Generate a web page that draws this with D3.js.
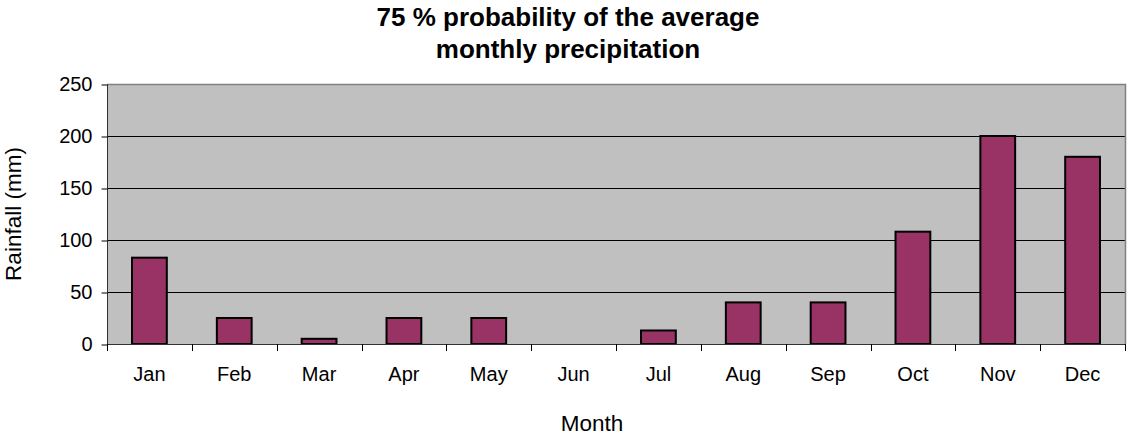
<!DOCTYPE html>
<html>
<head>
<meta charset="utf-8">
<script src="https://cdn.jsdelivr.net/npm/d3@7"></script>
<style>
  html, body { margin: 0; padding: 0; background: #fff; }
  svg { display: block; font-family: Arial, "Liberation Sans", sans-serif; }
</style>
</head>
<body>
<svg id="chart" width="1128" height="439"></svg>
<script>
// Monthly rainfall at 75 % probability (mm)
const months = ["Jan", "Feb", "Mar", "Apr", "May", "Jun", "Jul", "Aug", "Sep", "Oct", "Nov", "Dec"];
const rainfall = [83, 25, 5, 25, 25, 0, 13, 40, 40, 108, 200, 180];
const yTicks = [0, 50, 100, 150, 200, 250];
const titleLines = ["75 % probability of the average", "monthly precipitation"];

const svg = d3.select("#chart");
const plot = { left: 107, right: 1125, top: 84, bottom: 344 };

const x = d3.scaleBand()
  .domain(months)
  .range([plot.left, plot.right])
  .paddingInner(0.59)
  .paddingOuter(0.295);

const y = d3.scaleLinear()
  .domain([0, 250])
  .range([plot.bottom, plot.top]);

// plot background
svg.append("rect")
  .attr("x", plot.left).attr("y", plot.top)
  .attr("width", plot.right - plot.left).attr("height", plot.bottom - plot.top)
  .attr("fill", "#c0c0c0");

// horizontal gridlines
svg.append("g")
  .selectAll("line")
  .data(yTicks.filter(d => d > 0 && d < 250))
  .join("line")
  .attr("x1", plot.left).attr("x2", plot.right)
  .attr("y1", d => y(d) + 0.5).attr("y2", d => y(d) + 0.5)
  .attr("stroke", "#000").attr("stroke-width", 1);

// top and right frame
svg.append("path")
  .attr("d", `M${plot.left},${plot.top + 0.5}H${plot.right + 0.5}V${plot.bottom}`)
  .attr("fill", "none").attr("stroke", "#808080").attr("stroke-width", 1.5);

// bars
svg.append("g")
  .selectAll("rect")
  .data(months.map((m, i) => ({ m, v: rainfall[i] })))
  .join("rect")
  .attr("x", d => x(d.m))
  .attr("y", d => y(d.v))
  .attr("width", x.bandwidth())
  .attr("height", d => y(0) - y(d.v))
  .attr("fill", "#993366")
  .attr("stroke", "#000")
  .attr("stroke-width", 2)
  .attr("display", d => d.v > 0 ? null : "none");

// y axis
const yAxis = d3.axisLeft(y).tickValues(yTicks).tickSize(6).tickPadding(9);
svg.append("g")
  .attr("transform", `translate(${plot.left + 0.5},0.5)`)
  .call(yAxis)
  .call(g => g.select(".domain").attr("stroke", "#333").attr("d", `M0,${plot.top}V${plot.bottom}`))
  .call(g => g.selectAll(".tick line").attr("stroke", "#000"))
  .call(g => g.selectAll(".tick text").attr("font-size", 20).attr("fill", "#000").attr("font-family", "Arial, 'Liberation Sans', sans-serif"));

// x axis: ticks at category boundaries
const boundaries = d3.range(months.length + 1).map(i => plot.left + i * (plot.right - plot.left) / months.length);
const xg = svg.append("g");
xg.append("line")
  .attr("x1", plot.left).attr("x2", plot.right + 1)
  .attr("y1", plot.bottom + 0.5).attr("y2", plot.bottom + 0.5)
  .attr("stroke", "#333");
xg.selectAll("line.tick")
  .data(boundaries)
  .join("line")
  .attr("class", "tick")
  .attr("x1", d => Math.round(d) + 0.5).attr("x2", d => Math.round(d) + 0.5)
  .attr("y1", plot.bottom).attr("y2", plot.bottom + 7)
  .attr("stroke", "#000");
xg.selectAll("text")
  .data(months)
  .join("text")
  .attr("x", d => x(d) + x.bandwidth() / 2)
  .attr("y", 381)
  .attr("text-anchor", "middle")
  .attr("font-size", 20)
  .text(d => d);

// axis titles
svg.append("text")
  .attr("x", 592).attr("y", 431)
  .attr("text-anchor", "middle")
  .attr("font-size", 22.5)
  .text("Month");

svg.append("text")
  .attr("transform", "translate(21,214) rotate(-90)")
  .attr("text-anchor", "middle")
  .attr("font-size", 22.5)
  .text("Rainfall (mm)");

// chart title
svg.append("g")
  .selectAll("text")
  .data(titleLines)
  .join("text")
  .attr("x", 568)
  .attr("y", (d, i) => 26 + i * 32)
  .attr("text-anchor", "middle")
  .attr("font-size", 26)
  .attr("font-weight", "bold")
  .text(d => d);
</script>
</body>
</html>
